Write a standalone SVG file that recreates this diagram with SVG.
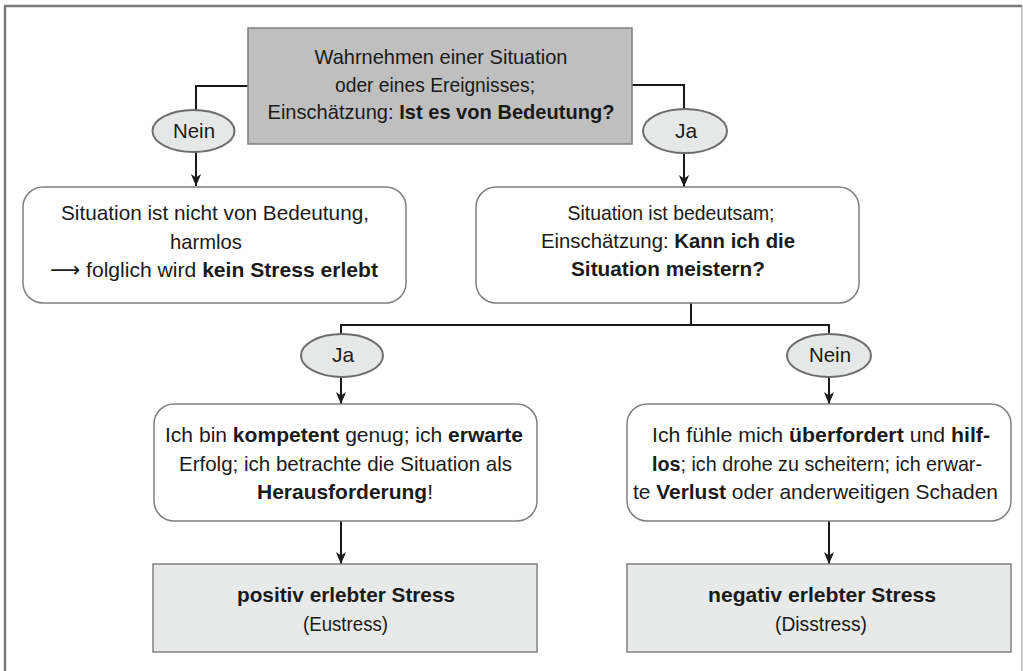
<svg xmlns="http://www.w3.org/2000/svg" width="1023" height="671" viewBox="0 0 1023 671">
<style>
text{font-family:"Liberation Sans",Arial,sans-serif;font-size:21px;fill:#1a1a1a;text-anchor:middle}
.b{font-weight:bold}
.rbox{fill:#fff;stroke:#808080;stroke-width:1.5}
.gbox{fill:#e8e9e9;stroke:#808080;stroke-width:1.5}
.dbox{fill:#bfbfbf;stroke:#7f7f7f;stroke-width:1.5}
.ell{fill:#e6e7e7;stroke:#6d6d6d;stroke-width:2}
.con{fill:none;stroke:#1a1a1a;stroke-width:2}
</style>
<defs>
<marker id="ah" markerUnits="userSpaceOnUse" markerWidth="12" markerHeight="14" viewBox="0 0 14 12" refX="14" refY="6" orient="auto">
<path d="M0,0 L14,6 L0,12 L4,6 z" fill="#1a1a1a"/>
</marker>
</defs>
<g id="frame">
<line x1="4" y1="6" x2="1022" y2="6" stroke="#7a7a7a" stroke-width="2.5"/>
<line x1="5" y1="6" x2="5" y2="671" stroke="#7a7a7a" stroke-width="2.5"/>
<line x1="1022" y1="6" x2="1022" y2="671" stroke="#999" stroke-width="1"/>
</g>
<g id="connectors">
<path class="con" d="M248,86 H196 V110"/>
<path class="con" d="M196,152 V186" marker-end="url(#ah)"/>
<path class="con" d="M632,85 H684 V109"/>
<path class="con" d="M684,153 V187" marker-end="url(#ah)"/>
<path class="con" d="M691,303 V325"/>
<path class="con" d="M341,334 V325 H829 V334"/>
<path class="con" d="M341,377 V404" marker-end="url(#ah)"/>
<path class="con" d="M829,377 V404" marker-end="url(#ah)"/>
<path class="con" d="M341,521 V564" marker-end="url(#ah)"/>
<path class="con" d="M829,521 V564" marker-end="url(#ah)"/>
</g>
<g id="start">
<rect class="dbox" x="248" y="28" width="384" height="116"/>
<text x="441" y="64" textLength="253" lengthAdjust="spacingAndGlyphs">Wahrnehmen einer Situation</text>
<text x="435" y="91.5" textLength="200" lengthAdjust="spacingAndGlyphs">oder eines Ereignisses;</text>
<text x="441" y="119" textLength="347" lengthAdjust="spacingAndGlyphs">Einschätzung: <tspan class="b">Ist es von Bedeutung?</tspan></text>
</g>
<g id="nein1">
<ellipse class="ell" cx="193.5" cy="131" rx="41" ry="21"/>
<text x="194" y="138" textLength="42" lengthAdjust="spacingAndGlyphs">Nein</text>
</g>
<g id="ja1">
<ellipse class="ell" cx="685" cy="131" rx="42" ry="22"/>
<text x="686" y="138">Ja</text>
</g>
<g id="harmlos">
<rect class="rbox" x="23" y="187" width="383" height="116" rx="20"/>
<text x="215" y="220" textLength="308" lengthAdjust="spacingAndGlyphs">Situation ist nicht von Bedeutung,</text>
<text x="206" y="248.5" textLength="72" lengthAdjust="spacingAndGlyphs">harmlos</text>
<text x="214" y="277" textLength="328" lengthAdjust="spacingAndGlyphs"><tspan style="font-family:'DejaVu Sans',sans-serif">⟶</tspan> folglich wird <tspan class="b">kein Stress erlebt</tspan></text>
</g>
<g id="bedeutsam">
<rect class="rbox" x="476" y="187" width="383" height="116" rx="20"/>
<text x="671" y="220" textLength="207" lengthAdjust="spacingAndGlyphs">Situation ist bedeutsam;</text>
<text x="668" y="248" textLength="254" lengthAdjust="spacingAndGlyphs">Einschätzung: <tspan class="b">Kann ich die</tspan></text>
<text x="668" y="276" class="b" textLength="194" lengthAdjust="spacingAndGlyphs">Situation meistern?</text>
</g>
<g id="ja2">
<ellipse class="ell" cx="342" cy="355.5" rx="41" ry="21.5"/>
<text x="343" y="362">Ja</text>
</g>
<g id="nein2">
<ellipse class="ell" cx="829" cy="355.5" rx="42" ry="21.5"/>
<text x="830" y="362" textLength="42" lengthAdjust="spacingAndGlyphs">Nein</text>
</g>
<g id="kompetent">
<rect class="rbox" x="154" y="404" width="383" height="117" rx="20"/>
<text x="344" y="442" textLength="358" lengthAdjust="spacingAndGlyphs">Ich bin <tspan class="b">kompetent</tspan> genug; ich <tspan class="b">erwarte</tspan></text>
<text x="345.5" y="470.5" textLength="333" lengthAdjust="spacingAndGlyphs">Erfolg; ich betrachte die Situation als</text>
<text x="345" y="499" textLength="176" lengthAdjust="spacingAndGlyphs"><tspan class="b">Herausforderung</tspan>!</text>
</g>
<g id="ueberfordert">
<rect class="rbox" x="627" y="404" width="384" height="117" rx="20"/>
<text x="821" y="442" textLength="338" lengthAdjust="spacingAndGlyphs">Ich fühle mich <tspan class="b">überfordert</tspan> und <tspan class="b">hilf-</tspan></text>
<text x="817" y="470.5" textLength="330" lengthAdjust="spacingAndGlyphs"><tspan class="b">los</tspan>; ich drohe zu scheitern; ich erwar-</text>
<text x="815.5" y="499" textLength="365" lengthAdjust="spacingAndGlyphs">te <tspan class="b">Verlust</tspan> oder anderweitigen Schaden</text>
</g>
<g id="eustress">
<rect class="gbox" x="153" y="564" width="384" height="88"/>
<text x="346" y="602" class="b" textLength="218" lengthAdjust="spacingAndGlyphs">positiv erlebter Stress</text>
<text x="345.5" y="631" textLength="85" lengthAdjust="spacingAndGlyphs">(Eustress)</text>
</g>
<g id="disstress">
<rect class="gbox" x="627" y="564" width="384" height="88"/>
<text x="822" y="602" class="b" textLength="228" lengthAdjust="spacingAndGlyphs">negativ erlebter Stress</text>
<text x="821" y="631" textLength="92" lengthAdjust="spacingAndGlyphs">(Disstress)</text>
</g>
</svg>
